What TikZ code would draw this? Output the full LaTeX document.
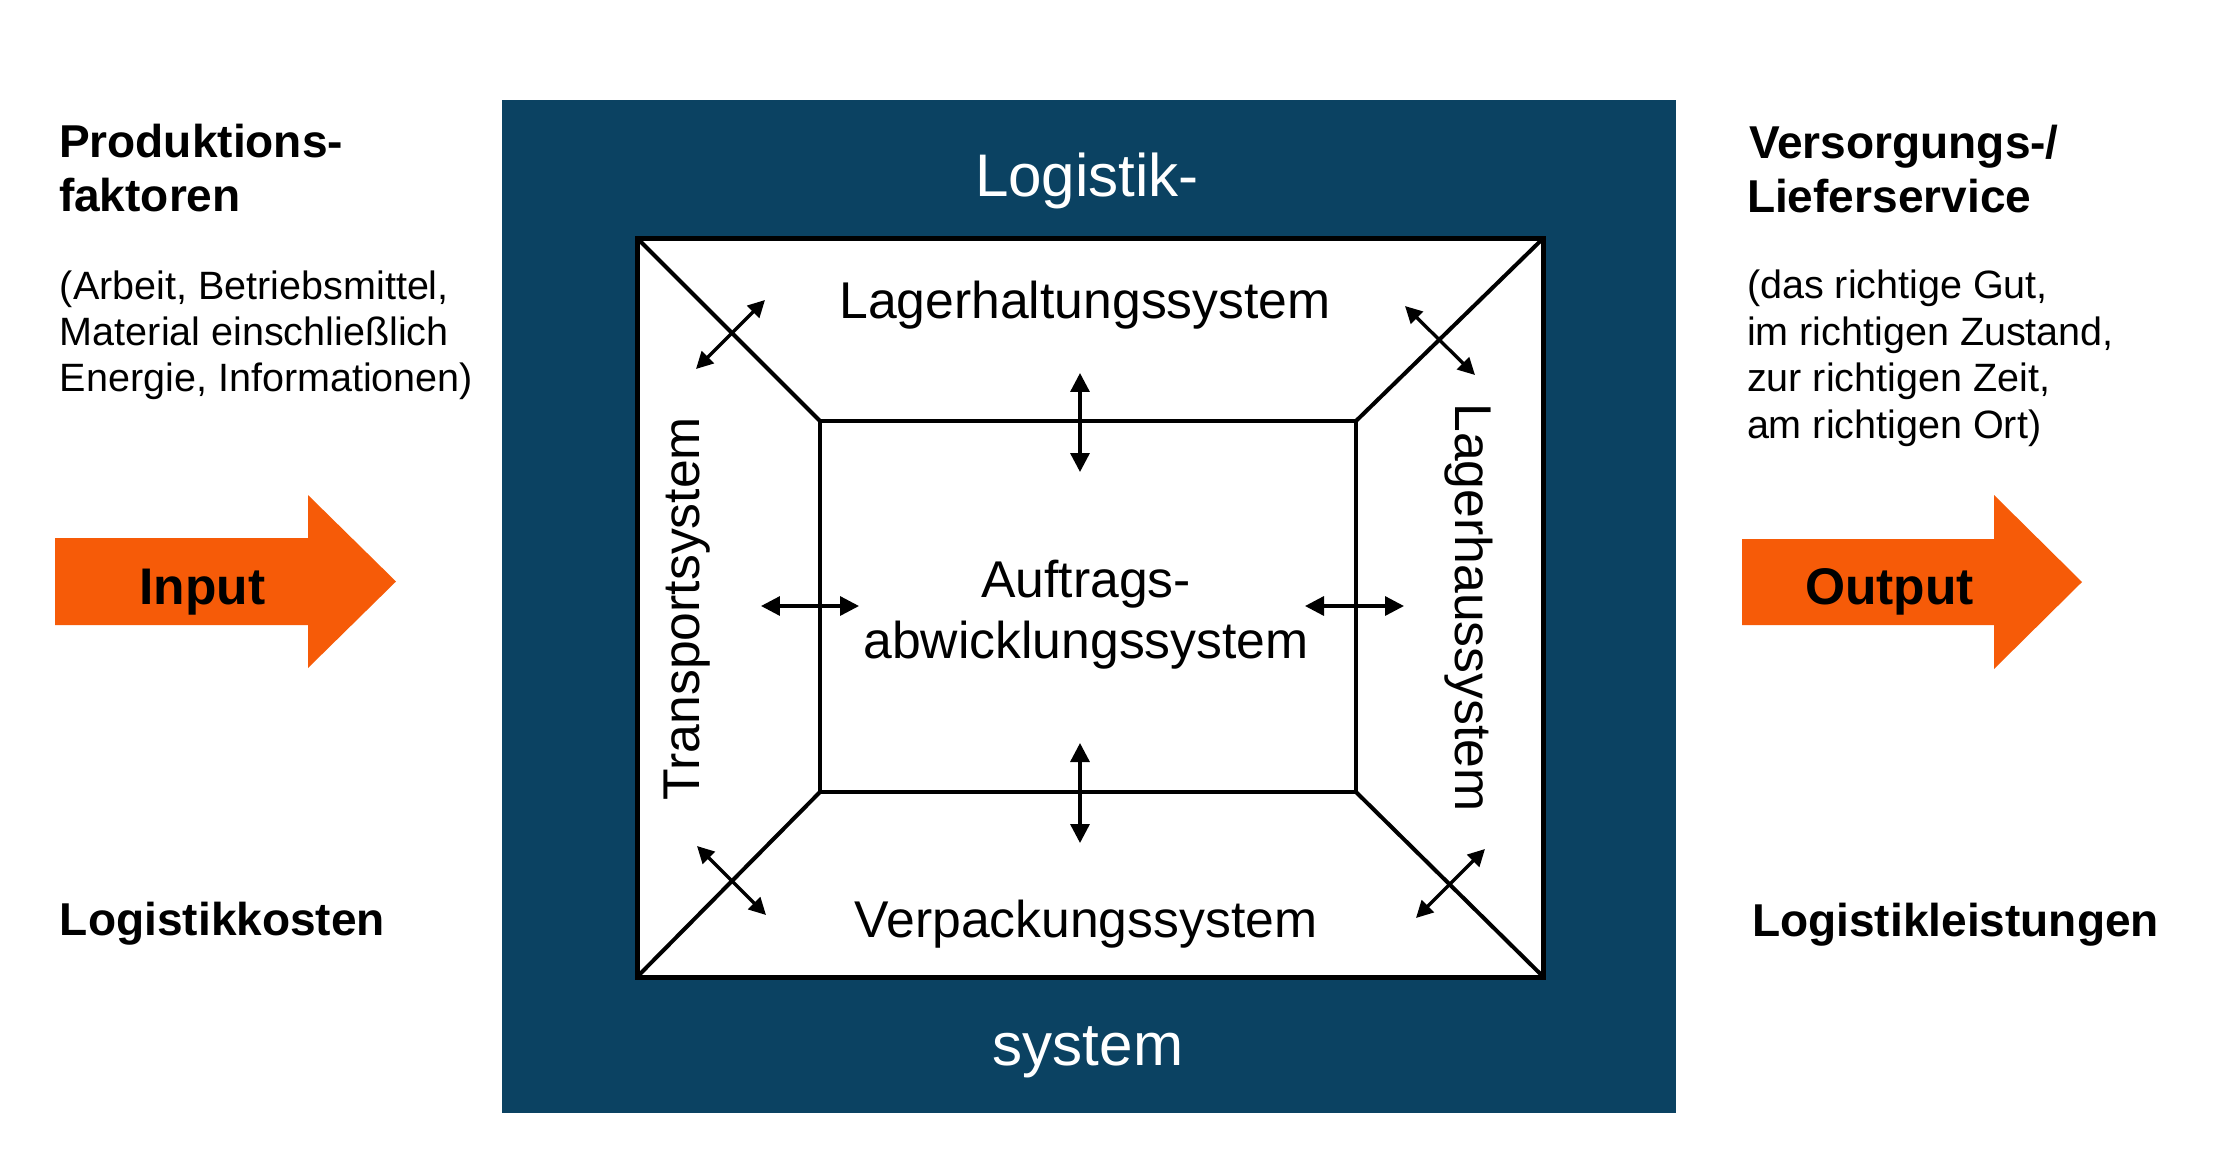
\documentclass[tikz,border=0pt]{standalone}
\usepackage{fontspec}
\setmainfont{Liberation Sans}
\usetikzlibrary{arrows.meta}
\definecolor{navy}{RGB}{11,66,98}
\definecolor{orng}{RGB}{246,91,8}
\tikzset{
  txt/.style={inner sep=0pt, outer sep=0pt},
  syslbl/.style={txt, anchor=base, font=\fontsize{14.7}{17.5}\selectfont},
  biglbl/.style={txt, anchor=base, text=white, font=\fontsize{17.1}{20}\selectfont},
  headlbl/.style={txt, anchor=base west, font=\bfseries\fontsize{13.1}{15.4}\selectfont},
  parlbl/.style={txt, anchor=base west, font=\fontsize{11.24}{13.1}\selectfont},
  arrlbl/.style={txt, anchor=base, font=\bfseries\fontsize{14.65}{17}\selectfont},
  outerline/.style={line width=1.42pt, draw=black},
  innerline/.style={line width=1.14pt, draw=black},
  dblarrow/.style={line width=0.95pt, {Triangle[width=5.4pt,length=5.4pt]}-{Triangle[width=5.4pt,length=5.4pt]}},
  diagarrow/.style={line width=0.95pt, {Triangle[width=4.8pt,length=4.8pt]}-{Triangle[width=4.8pt,length=4.8pt]}},
  bigarrow/.style={fill=orng}
}
\begin{document}
\begin{tikzpicture}[x=0.01cm,y=-0.01cm]
\useasboundingbox (0,0) rectangle (2226,1172);
\fill[white] (0,0) rectangle (2226,1172);

% dark system box
\fill[navy] (502,99.5) rectangle (1676,1113);

% corner coordinates
\coordinate (OTL) at (637,238);
\coordinate (OTR) at (1543.5,238);
\coordinate (OBR) at (1543.5,977);
\coordinate (OBL) at (637,977);
\coordinate (ITL) at (820,421);
\coordinate (ITR) at (1356,421);
\coordinate (IBR) at (1356,792);
\coordinate (IBL) at (820,792);

\filldraw[outerline, fill=white] (OTL) rectangle (OBR);
\draw[innerline] (ITL) rectangle (IBR);
\draw[innerline] (OTL) -- (ITL);
\draw[innerline] (OTR) -- (ITR);
\draw[innerline] (OBL) -- (IBL);
\draw[innerline] (OBR) -- (IBR);

% double arrows
\coordinate (vt1) at (1080,373);  \coordinate (vt2) at (1080,472);
\coordinate (vb1) at (1080,743);  \coordinate (vb2) at (1080,843);
\coordinate (hl1) at (761,606);   \coordinate (hl2) at (859,606);
\coordinate (hr1) at (1305,606);  \coordinate (hr2) at (1404,606);
\coordinate (dtl1) at (696,369);  \coordinate (dtl2) at (765,300);
\coordinate (dtr1) at (1405,306); \coordinate (dtr2) at (1475,375);
\coordinate (dbl1) at (697,846);  \coordinate (dbl2) at (766,915);
\coordinate (dbr1) at (1416,918); \coordinate (dbr2) at (1485,849);
\draw[dblarrow] (vt1) -- (vt2);
\draw[dblarrow] (vb1) -- (vb2);
\draw[dblarrow] (hl1) -- (hl2);
\draw[dblarrow] (hr1) -- (hr2);
\draw[diagarrow] (dtl1) -- (dtl2);
\draw[diagarrow] (dtr1) -- (dtr2);
\draw[diagarrow] (dbl1) -- (dbl2);
\draw[diagarrow] (dbr1) -- (dbr2);

% labels inside
\node[biglbl] (logistik) at (1087,196) {Logistik-};
\node[biglbl] (system) at (1088,1065) {system};
\node[syslbl] (lagerhaltung) at (1085,318) {Lagerhaltungssystem};
\node[syslbl] (verpackung) at (1086,937) {Verpackungssystem};
\node[syslbl] (auftrag1) at (1086,597) {Auftrags-};
\node[syslbl] (auftrag2) at (1086,658) {abwicklungssystem};
\node[syslbl, rotate=90] (transport) at (699,608.5) {Transportsystem};
\node[syslbl, rotate=-90] (lagerhaus) at (1455,607.5) {Lagerhaussystem};

% orange arrows
\fill[bigarrow] (55,538) -- (308,538) -- (308,495) -- (396,581.5) -- (308,668) -- (308,625) -- (55,625) -- cycle;
\fill[bigarrow] (1742,539) -- (1994,539) -- (1994,495) -- (2082,582) -- (1994,669) -- (1994,625) -- (1742,625) -- cycle;
\node[arrlbl] (input) at (202.5,604) {Input};
\node[arrlbl] (output) at (1889.5,604) {Output};

% left texts
\node[headlbl] (prod1) at (59,157) {Produktions-};
\node[headlbl] (prod2) at (59,211) {faktoren};
\node[parlbl] (pf1) at (60,299) {(Arbeit, Betriebsmittel,};
\node[parlbl] (pf2) at (60,345) {Material einschließlich};
\node[parlbl] (pf3) at (60,391) {Energie, Informationen)};
\node[headlbl] (kosten) at (60,935) {Logistikkosten};

% right texts
\node[headlbl] (vers1) at (1749,158) {Versorgungs-/};
\node[headlbl] (vers2) at (1747,212) {Lieferservice};
\node[parlbl] (ls1) at (1747,298) {(das richtige Gut,};
\node[parlbl] (ls2) at (1747,345) {im richtigen Zustand,};
\node[parlbl] (ls3) at (1747,391) {zur richtigen Zeit,};
\node[parlbl] (ls4) at (1747,438) {am richtigen Ort)};
\node[headlbl] (leistung) at (1752,936) {Logistikleistungen};
\end{tikzpicture}
\end{document}
